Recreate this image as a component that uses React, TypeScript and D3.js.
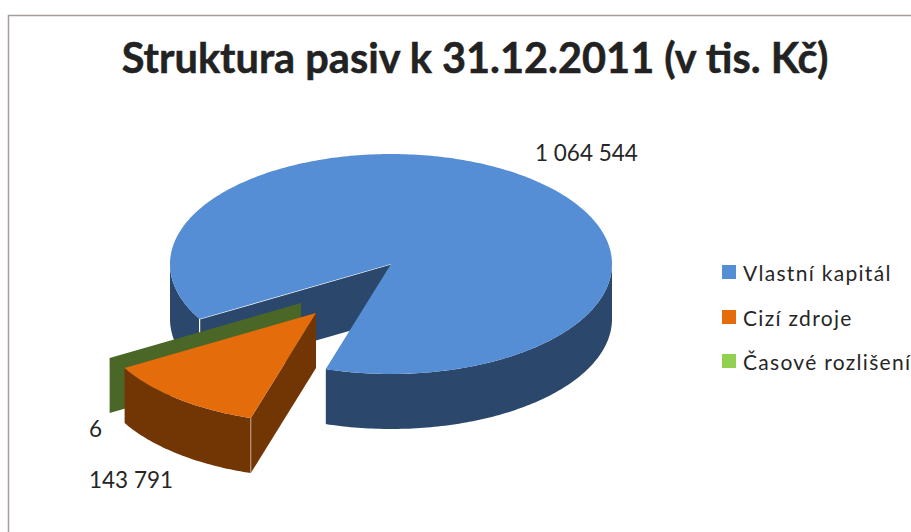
import * as d3 from 'd3';

const categories = ['Vlastní kapitál', 'Cizí zdroje', 'Časové rozlišení'];
const values = [1064544, 143791, 6];
const topColors = ['#558ed5', '#e46c0a', '#92d050'];
const wallColors = ['#2b476b', '#723604', '#4b6728'];

const width = 911;
const height = 532;
const rx = 221;
const ry = 110;
const depth = 55;
const font = 'Lato, "Open Sans", sans-serif';

// pie centre, then where each exploded slice ends up
const cx = 391;
const cy = 264;
const explode = [[0, 0], [-75, 49], [-90, 39]];
const labelPos = [[535, 161], [89, 488], [89, 437]];

const fmt = d3.formatLocale({ decimal: ',', thousands: ' ', grouping: [3], currency: ['', ''] }).format(',d');

const pie = d3.pie<number>().sort(null).startAngle((240 * Math.PI) / 180).endAngle((600 * Math.PI) / 180);
const slices = pie(values);

const line = d3.line();
const pt = (a: number, i: number, dz = 0): [number, number] => [
  cx + explode[i][0] + rx * Math.sin(a),
  cy + explode[i][1] - ry * Math.cos(a) + dz,
];
const apex = (i: number, dz = 0): [number, number] => [cx + explode[i][0], cy + explode[i][1] + dz];
const sweep = (a0: number, a1: number, i: number, dz = 0) => {
  const n = Math.max(2, Math.ceil(Math.abs(a1 - a0) * 60));
  return d3.range(n + 1).map(k => pt(a0 + ((a1 - a0) * k) / n, i, dz));
};
const topFace = (a0: number, a1: number, i: number) => line([apex(i), ...sweep(a0, a1, i)]) + 'Z';
const edgeWall = (a: number, i: number) =>
  line([apex(i), pt(a, i), pt(a, i, depth), apex(i, depth)]) + 'Z';
// outer rim only shows on the front half, between 90 and 270 deg
const rimWall = (a0: number, a1: number, i: number) => {
  const turn = 2 * Math.PI;
  const parts: string[] = [];
  for (const k of [-1, 0, 1, 2]) {
    const lo = Math.max(a0, Math.PI / 2 + k * turn);
    const hi = Math.min(a1, (3 * Math.PI) / 2 + k * turn);
    if (hi > lo) parts.push(line([...sweep(lo, hi, i), ...sweep(hi, lo, i, depth)]) + 'Z');
  }
  return parts.join('');
};

export default function App() {
  const [blue, orange, green] = slices;
  return (
    <svg
      width={width}
      height={height}
      style={{ position: 'absolute', left: 0, top: 0, display: 'block' }}
    >
      <rect width={width} height={height} fill="#fff" />
      <path d={`M8.5 ${height}V15.5H${width}`} fill="none" stroke="#a79d9b" strokeWidth={1.5} />
      <text
        x={475}
        y={73}
        textAnchor="middle"
        fontFamily={font}
        fontWeight={700}
        fontSize={41.5}
        stroke="#222"
        strokeWidth={0.5}
        fill="#222"
      >
        Struktura pasiv k 31.12.2011 (v tis. Kč)
      </text>

      {/* blue slice */}
      <path d={rimWall(blue.startAngle, blue.endAngle, 0)} fill={wallColors[0]} />
      <path d={edgeWall(blue.startAngle, 0)} fill={wallColors[0]} />
      <path
        d={line([apex(0), pt(blue.startAngle, 0), pt(blue.startAngle, 0, 15)]) ?? ''}
        fill="none"
        stroke="#fff"
        strokeWidth={1.2}
      />
      <path d={topFace(blue.startAngle, blue.endAngle, 0)} fill={topColors[0]} />

      {/* the 6 tis. slice is so thin only its cut wall shows */}
      <path d={edgeWall(green.startAngle, 2)} fill={wallColors[2]} />

      {/* orange slice */}
      <path d={rimWall(orange.startAngle, orange.endAngle, 1)} fill={wallColors[1]} />
      <path d={edgeWall(orange.startAngle, 1)} fill={wallColors[1]} />
      <path
        d={line([pt(orange.startAngle, 1), pt(orange.startAngle, 1, depth)]) ?? ''}
        stroke="#c9a78c"
        strokeWidth={1}
      />
      <path d={topFace(orange.startAngle, orange.endAngle, 1)} fill={topColors[1]} />

      {values.map((v, i) => (
        <text key={i} x={labelPos[i][0]} y={labelPos[i][1]} fontFamily={font} fontSize={22.5} fill="#262626">
          {fmt(v)}
        </text>
      ))}

      {categories.map((c, i) => {
        const y = [265, 310, 354][i];
        return (
          <g key={c}>
            <rect x={722} y={y} width={14} height={14} fill={topColors[i]} />
            <text x={743} y={y + 16} fontFamily={font} fontSize={21} letterSpacing={1.3} fill="#262626">
              {c}
            </text>
          </g>
        );
      })}
    </svg>
  );
}
